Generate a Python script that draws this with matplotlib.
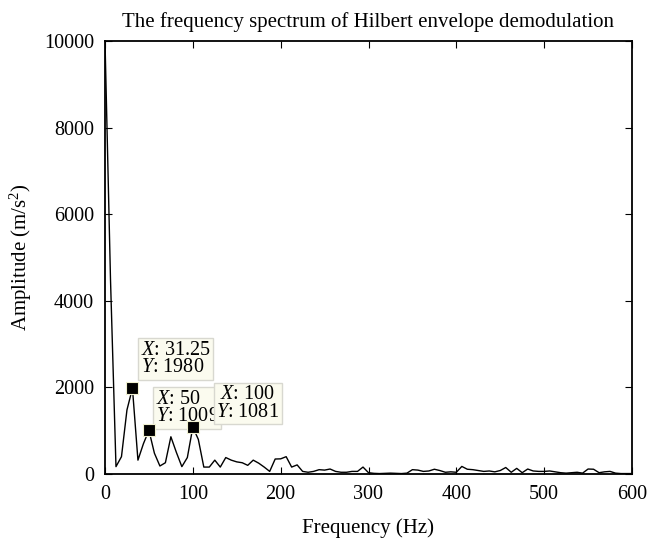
import matplotlib
matplotlib.use("Agg")
import matplotlib.pyplot as plt
import numpy as np

freq_step = 6.25
amplitude = [
    10000, 4500, 170, 400, 1480, 1980, 320, 700, 1009, 480,
    185, 260, 860, 500, 170, 380, 1081, 800, 160, 160,
    320, 160, 380, 320, 280, 260, 200, 320, 250, 160,
    60, 346, 350, 400, 160, 210, 60, 40, 60, 100,
    90, 115, 60, 40, 40, 60, 60, 160, 30, 15,
    10, 15, 20, 15, 10, 20, 100, 90, 60, 70,
    110, 80, 40, 50, 40, 175, 110, 100, 80, 60,
    70, 50, 80, 150, 40, 130, 30, 115, 70, 60,
    60, 70, 50, 30, 20, 30, 40, 20, 115, 110,
    30, 50, 60, 20, 10, 10, 10,
]
frequency = [i * freq_step for i in range(len(amplitude))]

tip_x = [31.25, 50, 100]
tip_y = [1980, 1009, 1081]
tip_labels = ["$X$: 31.25\n$Y$: 1980", "$X$: 50\n$Y$: 1009", "$X$: 100\n$Y$: 1081"]

plt.rcParams['font.family'] = ['Liberation Serif', 'DejaVu Serif']
plt.rcParams['mathtext.fontset'] = 'custom'
plt.rcParams['mathtext.rm'] = 'Liberation Serif'
plt.rcParams['mathtext.it'] = 'Liberation Serif:italic'

FS = 15
fig = plt.figure(figsize=(6.47, 5.41), dpi=100)
ax = fig.add_axes([105/647, 1-474/541, 527/647, 433/541])
ax.plot(frequency, amplitude, color='black', lw=1.0)
ax.set_xlim(0, 600)
ax.set_ylim(0, 10000)
ax.set_xticks(range(0, 601, 100))
ax.set_yticks(range(0, 10001, 2000))
ax.tick_params(direction='in', top=True, right=True, labelsize=14.5, length=5, width=0.8, pad=8)
for s in ax.spines.values():
    s.set_linewidth(1.3)
ax.set_title('The frequency spectrum of Hilbert envelope demodulation', fontsize=15, pad=10)
ax.set_xlabel('Frequency (Hz)', fontsize=FS, labelpad=10)
ax.set_ylabel('Amplitude (m/s$^2$)', fontsize=FS, labelpad=7)

offsets = [(6, 8), (5, 3), (17, 4)]
aligns = ['left', 'left', 'center']
for (x, y, lab, off, al) in zip(tip_x, tip_y, tip_labels, offsets, aligns):
    ax.plot([x], [y], marker='s', ms=9, color='black', mec='#f0f0d0', mew=0.8, zorder=10)
    ax.annotate(lab, xy=(x, y), xytext=off, textcoords='offset points',
                ha='left', va='bottom', fontsize=14.5, multialignment=al, linespacing=0.9,
                bbox=dict(boxstyle='square,pad=0.12', fc='#fbfbef', ec='#d8d8d0', lw=1.0),
                zorder=6)

fig.savefig('out.png', dpi=100)
